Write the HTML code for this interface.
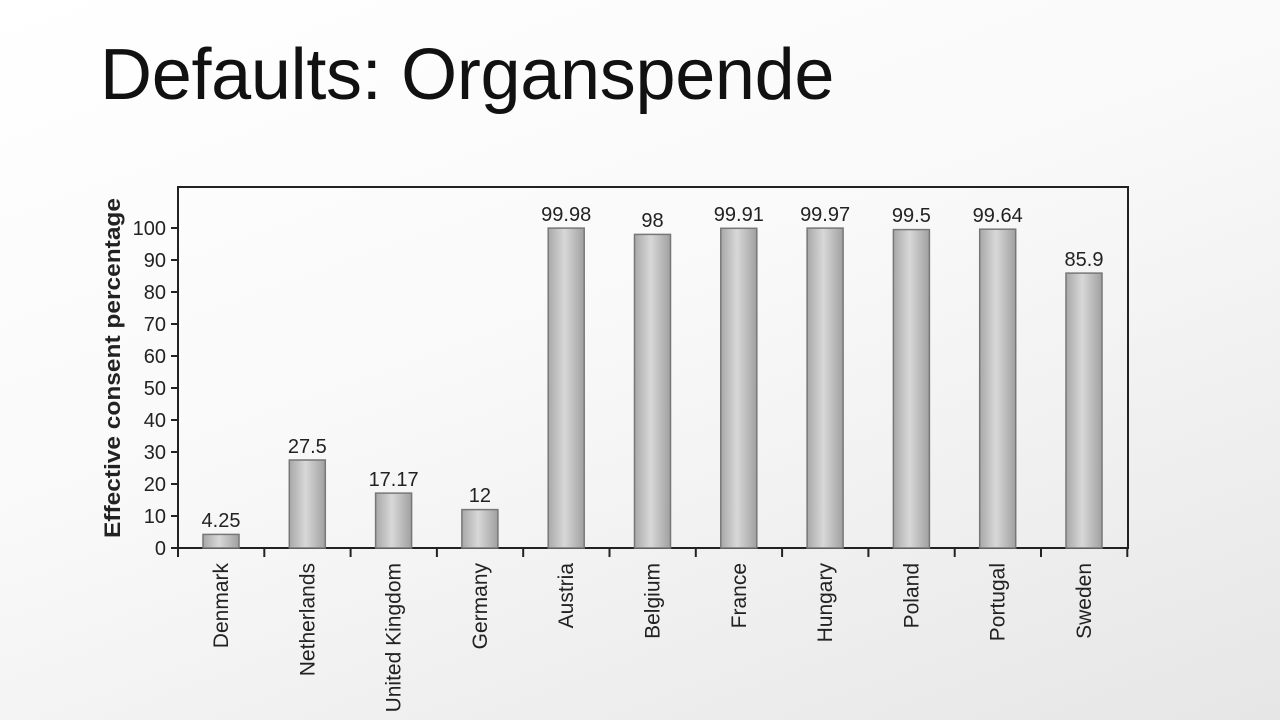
<!DOCTYPE html>
<html><head><style>
html,body{margin:0;padding:0}
body{width:1280px;height:720px;overflow:hidden;background:linear-gradient(160deg,#ffffff 0%,#f9f9f9 45%,#e6e6e6 100%);position:relative;font-family:"Liberation Sans",Arial,sans-serif}
h1{position:absolute;left:100px;top:34px;margin:0;font-weight:normal;font-size:72px;color:#111;font-family:"Liberation Sans",sans-serif;letter-spacing:-0.3px}
svg{position:absolute;left:0;top:0}
</style></head><body>
<h1>Defaults: Organspende</h1>
<svg width="1280" height="720" font-family="Liberation Sans, Arial, sans-serif">
<defs><linearGradient id="g" x1="0" x2="1"><stop offset="0" stop-color="#a8a8a8"/><stop offset="0.45" stop-color="#d8d8d8"/><stop offset="1" stop-color="#a0a0a0"/></linearGradient></defs>
<rect x="178" y="187" width="950" height="361" fill="none" stroke="#222" stroke-width="2"/>
<g stroke="#222" stroke-width="2">
<line x1="171" y1="548" x2="178" y2="548"/><line x1="171" y1="516" x2="178" y2="516"/><line x1="171" y1="484" x2="178" y2="484"/><line x1="171" y1="452" x2="178" y2="452"/><line x1="171" y1="420" x2="178" y2="420"/><line x1="171" y1="388" x2="178" y2="388"/><line x1="171" y1="356" x2="178" y2="356"/><line x1="171" y1="324" x2="178" y2="324"/><line x1="171" y1="292" x2="178" y2="292"/><line x1="171" y1="260" x2="178" y2="260"/><line x1="171" y1="228" x2="178" y2="228"/>
<line x1="178" y1="548" x2="178" y2="557"/><line x1="264.3" y1="548" x2="264.3" y2="557"/><line x1="350.6" y1="548" x2="350.6" y2="557"/><line x1="436.9" y1="548" x2="436.9" y2="557"/><line x1="523.2" y1="548" x2="523.2" y2="557"/><line x1="609.5" y1="548" x2="609.5" y2="557"/><line x1="695.8" y1="548" x2="695.8" y2="557"/><line x1="782.1" y1="548" x2="782.1" y2="557"/><line x1="868.4" y1="548" x2="868.4" y2="557"/><line x1="954.7" y1="548" x2="954.7" y2="557"/><line x1="1041" y1="548" x2="1041" y2="557"/><line x1="1127.3" y1="548" x2="1127.3" y2="557"/>
</g>
<g font-size="20" fill="#222" text-anchor="end">
<text x="166" y="555">0</text><text x="166" y="523">10</text><text x="166" y="491">20</text><text x="166" y="459">30</text><text x="166" y="427">40</text><text x="166" y="395">50</text><text x="166" y="363">60</text><text x="166" y="331">70</text><text x="166" y="299">80</text><text x="166" y="267">90</text><text x="166" y="235">100</text>
</g>
<text transform="translate(120,368) rotate(-90)" text-anchor="middle" font-size="22" font-weight="bold" fill="#222" textLength="340" lengthAdjust="spacingAndGlyphs">Effective consent percentage</text>
<g fill="url(#g)" stroke="#777" stroke-width="1.5">
<rect x="203" y="534.4" width="36" height="13.6"/>
<rect x="289.3" y="460" width="36" height="88"/>
<rect x="375.6" y="493.1" width="36" height="54.9"/>
<rect x="461.9" y="509.6" width="36" height="38.4"/>
<rect x="548.2" y="228.1" width="36" height="319.9"/>
<rect x="634.5" y="234.4" width="36" height="313.6"/>
<rect x="720.8" y="228.3" width="36" height="319.7"/>
<rect x="807.1" y="228.1" width="36" height="319.9"/>
<rect x="893.4" y="229.6" width="36" height="318.4"/>
<rect x="979.7" y="229.2" width="36" height="318.8"/>
<rect x="1066" y="273.1" width="36" height="274.9"/>
</g>
<g font-size="20" fill="#222" text-anchor="middle">
<text x="221" y="527">4.25</text>
<text x="307.3" y="453">27.5</text>
<text x="393.6" y="486">17.17</text>
<text x="479.9" y="502">12</text>
<text x="566.2" y="221">99.98</text>
<text x="652.5" y="227">98</text>
<text x="738.8" y="221">99.91</text>
<text x="825.1" y="221">99.97</text>
<text x="911.4" y="222">99.5</text>
<text x="997.7" y="222">99.64</text>
<text x="1084" y="266">85.9</text>
</g>
<g font-size="21" fill="#222" text-anchor="end">
<text transform="translate(228,563) rotate(-90)">Denmark</text>
<text transform="translate(314.3,563) rotate(-90)">Netherlands</text>
<text transform="translate(400.6,563) rotate(-90)">United Kingdom</text>
<text transform="translate(486.9,563) rotate(-90)">Germany</text>
<text transform="translate(573.2,563) rotate(-90)">Austria</text>
<text transform="translate(659.5,563) rotate(-90)">Belgium</text>
<text transform="translate(745.8,563) rotate(-90)">France</text>
<text transform="translate(832.1,563) rotate(-90)">Hungary</text>
<text transform="translate(918.4,563) rotate(-90)">Poland</text>
<text transform="translate(1004.7,563) rotate(-90)">Portugal</text>
<text transform="translate(1091,563) rotate(-90)">Sweden</text>
</g>
</svg>
</body></html>
